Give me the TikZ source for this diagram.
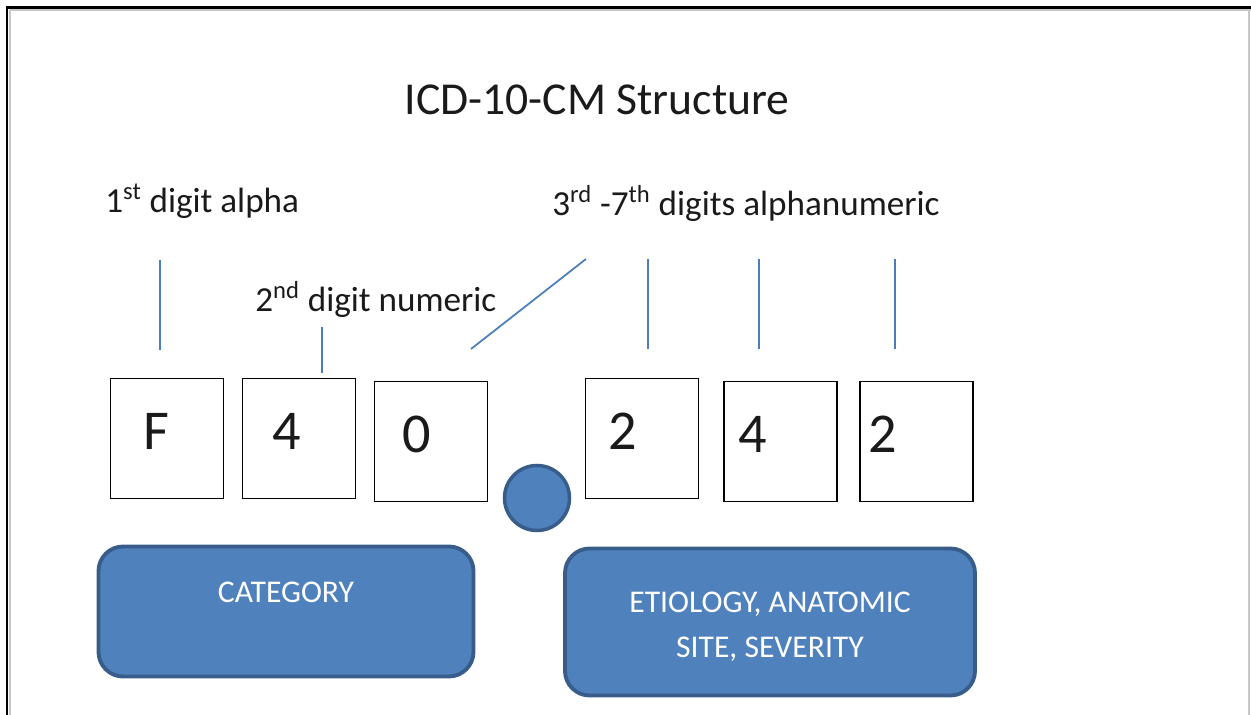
\documentclass[tikz,border=0pt]{standalone}
\usepackage{fontspec}
\setmainfont{Carlito}
\usetikzlibrary{positioning}
\definecolor{Ink}{HTML}{1A1A1A}
\definecolor{Rule}{HTML}{4A7EBB}
\definecolor{Fill}{HTML}{4F81BD}
\definecolor{Edge}{HTML}{385D8A}
\definecolor{Frame}{HTML}{C8C8C8}

\begin{document}
\begin{tikzpicture}[text=Ink,digit/.style={draw=black,line width=1.1pt,fill=white,minimum width=2.26cm,minimum height=2.4cm,inner sep=0pt,text width=#1,align=left,text depth=0.28cm,font=\fontsize{32}{36}\selectfont},tag/.style={font=\fontsize{20}{24}\selectfont,inner sep=0pt},pointer/.style={draw=Rule,line width=1pt},group/.style={draw=Edge,fill=Fill,rounded corners=14pt,line width=2.2pt},grouptext/.style={text=white,align=center,font=\fontsize{18}{25.6}\selectfont}]
\useasboundingbox (0,0) rectangle (25.02,-14.3);
\draw[Frame,line width=0.6pt] (0.2,-0.2) -- (0.2,-14.3);\draw[Frame,line width=0.6pt] (0.2,-0.2) -- (25.02,-0.2);\draw[Frame,line width=0.8pt] (24.98,-0.16) -- (24.98,-14.3);
\draw[black,line width=1.7pt] (0.14,-14.3) -- (0.14,-0.16) -- (25.02,-0.16);
\node[font=\fontsize{26}{30}\selectfont] (title) at (11.94,-2.0){ICD-10-CM Structure};
\node[tag,anchor=base west] (first) at (2.1,-4.26){1\textsuperscript{st} digit alpha};
\node[tag,anchor=base west] (rest) at (11.04,-4.32){3\textsuperscript{rd} -7\textsuperscript{th} digits alphanumeric};
\node[tag,anchor=base west] (second) at (5.1,-6.24){2\textsuperscript{nd} digit numeric};
\node[digit=0.96cm] (d1) at (3.34,-8.77){F};
\node[digit=1.08cm] (d2) at (5.98,-8.77){4};
\node[digit=1.16cm] (d3) at (8.62,-8.83){0};
\node[digit=1.36cm] (d4) at (12.84,-8.77){2};
\node[digit=1.68cm] (d5) at (15.61,-8.83){4};
\node[digit=1.92cm] (d6) at (18.33,-8.83){2};
\node[circle,draw=Edge,fill=Fill,line width=2pt,minimum size=1.3cm,inner sep=0pt] (dot) at (10.74,-9.96){};
\coordinate (p1) at (3.2,-5.2);\coordinate (q1) at (3.2,-7.0);
\coordinate (p2) at (6.44,-6.54);\coordinate (q2) at (6.44,-7.46);
\coordinate (p3) at (11.72,-5.18);\coordinate (q3) at (9.42,-6.98);
\coordinate (p4) at (12.96,-5.18);\coordinate (q4) at (12.96,-6.98);
\coordinate (p5) at (15.18,-5.18);\coordinate (q5) at (15.18,-6.98);
\coordinate (p6) at (17.9,-5.18);\coordinate (q6) at (17.9,-6.98);
\foreach \i in {1,...,6}{\draw[pointer] (p\i) -- (q\i);}
\node[group,minimum width=7.5cm,minimum height=2.6cm] (cat) at (5.72,-12.23){};
\node[grouptext] (catname) at ([yshift=-0.96cm]cat.north){CATEGORY};
\node[group,minimum width=8.2cm,minimum height=2.94cm] (eti) at (15.4,-12.44){};
\node[grouptext] (etiname) at ([yshift=-0.1cm]eti.center){ETIOLOGY, ANATOMIC\\SITE, SEVERITY};
\end{tikzpicture}
\end{document}
